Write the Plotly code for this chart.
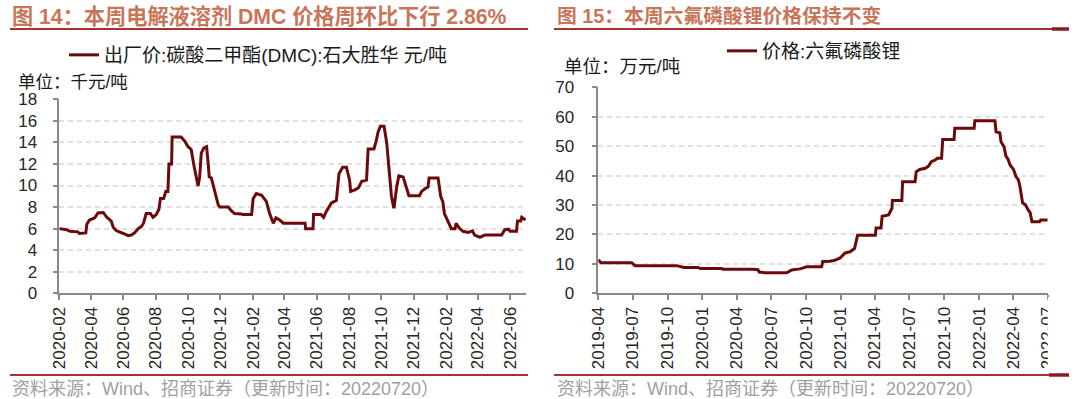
import plotly.graph_objects as go

# ---------------- data ----------------
dmc_dates = [
    "2020-02-01","2020-02-15","2020-02-21","2020-03-07","2020-03-10","2020-03-22","2020-03-24","2020-03-29","2020-04-08","2020-04-14",
    "2020-04-24","2020-04-30","2020-05-09","2020-05-13","2020-05-19","2020-05-25","2020-06-01","2020-06-10","2020-06-16","2020-06-22",
    "2020-06-29","2020-07-05","2020-07-09","2020-07-14","2020-07-22","2020-07-27","2020-08-02","2020-08-07","2020-08-10","2020-08-16",
    "2020-08-20","2020-08-24","2020-08-26","2020-08-31","2020-09-01","2020-09-18","2020-09-25","2020-10-01","2020-10-07","2020-10-12",
    "2020-10-17","2020-10-20","2020-10-23","2020-10-26","2020-10-31","2020-11-05","2020-11-08","2020-11-10","2020-11-14","2020-11-21",
    "2020-11-24","2020-11-27","2020-11-30","2020-12-16","2020-12-22","2020-12-28","2021-01-10","2021-01-13","2021-01-29","2021-02-01",
    "2021-02-07","2021-02-17","2021-02-26","2021-03-04","2021-03-11","2021-03-16","2021-03-23","2021-03-30","2021-05-10","2021-05-11",
    "2021-05-25","2021-05-26","2021-06-09","2021-06-14","2021-06-19","2021-06-29","2021-07-08","2021-07-13","2021-07-20","2021-07-27",
    "2021-08-02","2021-08-04","2021-08-12","2021-08-19","2021-08-25","2021-09-03","2021-09-06","2021-09-17","2021-09-21","2021-09-25",
    "2021-09-29","2021-10-06","2021-10-11","2021-10-17","2021-10-20","2021-10-24","2021-10-25","2021-10-30","2021-11-03","2021-11-11",
    "2021-11-16","2021-11-22","2021-12-12","2021-12-16","2021-12-22","2021-12-28","2021-12-30","2022-01-16","2022-01-21","2022-01-25",
    "2022-01-28","2022-02-04","2022-02-10","2022-02-17","2022-02-19","2022-02-25","2022-03-04","2022-03-14","2022-03-22","2022-03-26",
    "2022-04-05","2022-04-14","2022-05-16","2022-05-22","2022-05-29","2022-06-01","2022-06-13","2022-06-15","2022-06-21","2022-06-23",
    "2022-06-30",
]
dmc_values = [
    6.0, 5.9, 5.75, 5.7, 5.55, 5.6, 6.4, 6.8, 7.0, 7.45,
    7.5, 7.1, 6.7, 6.1, 5.8, 5.7, 5.55, 5.35, 5.4, 5.6,
    6.0, 6.2, 6.5, 7.4, 7.4, 7.05, 7.3, 7.8, 8.8, 8.8,
    9.45, 9.45, 12.0, 12.0, 14.5, 14.5, 14.1, 13.6, 13.35, 11.9,
    10.7, 9.95, 10.8, 13.0, 13.5, 13.6, 12.1, 10.8, 10.7, 9.3,
    8.8, 8.2, 8.0, 8.0, 7.65, 7.4, 7.35, 7.3, 7.3, 8.8,
    9.25, 9.1, 8.5, 7.4, 6.5, 7.0, 6.8, 6.5, 6.5, 6.0,
    6.0, 7.3, 7.3, 7.05, 7.6, 8.4, 8.6, 11.1, 11.7, 11.7,
    10.5, 9.45, 9.6, 9.8, 10.4, 10.5, 13.4, 13.4, 14.1, 15.0,
    15.5, 15.5, 14.0, 10.8, 9.0, 8.0, 8.0, 9.9, 10.9, 10.8,
    9.9, 9.05, 9.05, 9.45, 9.7, 9.85, 10.7, 10.7, 9.0, 8.5,
    7.4, 6.7, 6.0, 6.0, 6.5, 6.05, 5.75, 5.65, 5.8, 5.4,
    5.2, 5.4, 5.4, 5.9, 5.95, 5.75, 5.75, 6.7, 6.7, 7.05,
    6.8,
]

lipf6_dates = [
    "2019-04-01","2019-04-08","2019-06-28","2019-07-07","2019-10-25","2019-11-03","2019-11-13","2019-12-21","2019-12-26","2020-02-21",
    "2020-02-25","2020-05-14","2020-05-27","2020-05-30","2020-06-14","2020-08-11","2020-08-24","2020-09-15","2020-10-03","2020-11-11",
    "2020-11-14","2020-12-03","2020-12-16","2020-12-30","2021-01-12","2021-01-25","2021-02-06","2021-02-14","2021-04-02","2021-04-04",
    "2021-04-17","2021-04-20","2021-05-07","2021-05-16","2021-05-17","2021-06-11","2021-06-13","2021-07-16","2021-07-19","2021-07-28",
    "2021-08-12","2021-08-21","2021-08-28","2021-09-07","2021-09-13","2021-09-24","2021-09-27","2021-10-27","2021-10-29","2021-12-19",
    "2021-12-21","2022-02-12","2022-02-15","2022-02-25","2022-02-28","2022-03-08","2022-03-13","2022-03-19","2022-03-24","2022-04-02",
    "2022-04-09","2022-04-15","2022-04-19","2022-04-26","2022-05-04","2022-05-10","2022-05-16","2022-05-21","2022-06-10","2022-06-13",
    "2022-07-01",
]
lipf6_values = [
    11.4, 10.4, 10.4, 9.4, 9.4, 9.1, 8.8, 8.8, 8.4, 8.4,
    8.2, 8.2, 8.0, 7.2, 7.0, 7.0, 7.9, 8.3, 9.0, 9.0,
    10.8, 10.9, 11.2, 12.0, 13.7, 14.1, 15.2, 19.7, 19.7, 22.2,
    22.2, 26.2, 26.6, 28.9, 31.5, 31.5, 37.9, 37.9, 41.3, 42.1,
    42.5, 43.3, 44.7, 45.3, 45.9, 45.9, 52.3, 52.3, 56.1, 56.1,
    58.6, 58.6, 54.9, 54.5, 51.5, 49.8, 46.6, 45.5, 43.6, 42.1,
    39.6, 38.5, 36.4, 30.8, 30.0, 28.5, 27.4, 24.3, 24.3, 24.9,
    24.9,
]

title_left = "<b>图 14：本周电解液溶剂 DMC 价格周环比下行 2.86%</b>"
title_right = "<b>图 15：本周六氟磷酸锂价格保持不变</b>"
name_left = "出厂价:碳酸二甲酯(DMC):石大胜华 元/吨"
name_right = "价格:六氟磷酸锂"
unit_left = "单位：千元/吨"
unit_right = "单位：万元/吨"
source_text = "资料来源：Wind、招商证券（更新时间：20220720）"

# ---------------- styling ----------------
W, H = 1080, 399
LINE = "#6a0a0a"
AXIS = "#8a8a8a"
GRID = "#e1e1e1"
TITLE_C = "#c8765a"
RULE_C = "#a8302f"
FONT = "Liberation Sans, Arial, Noto Sans CJK SC, sans-serif"


def px(x):
    return x / W


def py(y):
    return 1 - y / H


fig = go.Figure()
fig.add_trace(go.Scatter(x=dmc_dates, y=dmc_values, mode="lines", name=name_left,
                         line=dict(color=LINE, width=3), xaxis="x", yaxis="y",
                         legend="legend"))
fig.add_trace(go.Scatter(x=lipf6_dates, y=lipf6_values, mode="lines", name=name_right,
                         line=dict(color=LINE, width=3), xaxis="x2", yaxis="y2",
                         legend="legend2"))

axis_common = dict(showline=True, linecolor=AXIS, linewidth=1.5, ticks="outside",
                   ticklen=5, tickwidth=1.5, tickcolor=AXIS, zeroline=False,
                   tickfont=dict(family=FONT, size=17, color="#262626"))

fig.update_layout(
    width=W, height=H, margin=dict(l=0, r=0, t=0, b=0, pad=0, autoexpand=False),
    paper_bgcolor="white", plot_bgcolor="white",
    font=dict(family=FONT),
    xaxis=dict(domain=[px(59.3), px(526)], range=["2020-02-01", "2022-07-01"], type="date",
               tickmode="linear", tick0="2020-02-01", dtick="M2", tickformat="%Y-%m",
               tickangle=-90, showgrid=False, anchor="y", **axis_common),
    yaxis=dict(domain=[py(293.3), py(99.3)], range=[0, 18], dtick=2, showgrid=True,
               gridcolor=GRID, griddash="5px,4px", gridwidth=1.5, anchor="x",
               ticklabelstandoff=12, **axis_common),
    xaxis2=dict(domain=[px(598.3), px(1048.3)], range=["2019-04-01", "2022-07-03"], type="date",
                tickmode="linear", tick0="2019-04-01", dtick="M3", tickformat="%Y-%m",
                tickangle=-90, showgrid=False, anchor="y2", **axis_common),
    yaxis2=dict(domain=[py(293.3), py(87.3)], range=[0, 70], dtick=10, showgrid=True,
                gridcolor=GRID, griddash="5px,4px", gridwidth=1.5, anchor="x2",
                ticklabelstandoff=14, **axis_common),
    legend=dict(x=px(64), y=py(55), xanchor="left", yanchor="middle", orientation="h",
                bgcolor="rgba(0,0,0,0)", font=dict(family=FONT, size=19, color="#1a1a1a")),
    legend2=dict(x=px(722), y=py(51), xanchor="left", yanchor="middle", orientation="h",
                 bgcolor="rgba(0,0,0,0)", font=dict(family=FONT, size=19, color="#1a1a1a")),
    showlegend=True,
)

annotations = [
    dict(text=title_left, x=px(10), y=py(16), font=dict(size=21.2, color=TITLE_C, family=FONT)),
    dict(text=title_right, x=px(555), y=py(16), font=dict(size=19.8, color=TITLE_C, family=FONT)),
    dict(text=unit_left, x=px(16), y=py(82), font=dict(size=17.5, color="#1a1a1a", family=FONT)),
    dict(text=unit_right, x=px(562), y=py(66), font=dict(size=18.5, color="#1a1a1a", family=FONT)),
    dict(text=source_text, x=px(10), y=py(389), font=dict(size=18, color="#a0a0a0", family=FONT)),
    dict(text=source_text, x=px(555), y=py(389), font=dict(size=18, color="#a0a0a0", family=FONT)),
]
for a in annotations:
    a.update(xref="paper", yref="paper", xanchor="left", yanchor="middle", showarrow=False)
fig.update_layout(annotations=annotations)

shapes = [
    # clip the last right-hand tick label like the reference
    dict(type="rect", x0=px(1047.8), x1=px(1080), y0=py(372), y1=py(297),
         fillcolor="white", line=dict(width=0), layer="above"),
    # top rules
    dict(type="line", x0=px(10), x1=px(528), y0=py(29), y1=py(29), line=dict(color=RULE_C, width=2)),
    dict(type="line", x0=px(554), x1=px(1052), y0=py(29), y1=py(29), line=dict(color=RULE_C, width=2)),
    dict(type="line", x0=px(1052), x1=px(1069), y0=py(29), y1=py(29), line=dict(color="#8a1c1c", width=3.5)),
    # bottom rules
    dict(type="line", x0=px(10), x1=px(528), y0=py(375), y1=py(375), line=dict(color=RULE_C, width=2)),
    dict(type="line", x0=px(554), x1=px(1049), y0=py(375), y1=py(375), line=dict(color=RULE_C, width=2)),
    dict(type="line", x0=px(1049), x1=px(1069), y0=py(375), y1=py(375), line=dict(color="#8a1c1c", width=3.5)),
]
for s in shapes:
    s.update(xref="paper", yref="paper")
    s.setdefault("layer", "above")
fig.update_layout(shapes=shapes)

fig.write_html(
    "out.html",
    config={"displayModeBar": False},
    post_script="document.body.style.margin='0px';document.body.style.padding='0px';"
                "document.body.style.overflow='hidden';",
)
